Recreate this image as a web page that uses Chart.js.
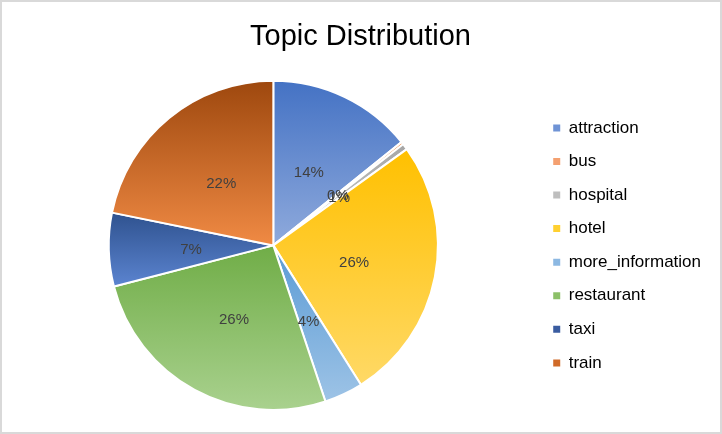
<!DOCTYPE html>
<html>
<head>
<meta charset="utf-8">
<script src="https://cdn.jsdelivr.net/npm/chart.js@4.4.1/dist/chart.umd.min.js"></script>
<style>
html,body{margin:0;padding:0;background:#fff;}
#wrap{position:relative;width:722px;height:434px;}
#frame{position:absolute;left:0;top:0;width:722px;height:434px;box-sizing:border-box;border:2px solid #d9d9d9;pointer-events:none;}
canvas{display:block;}
</style>
</head>
<body>
<div id="wrap"><canvas id="c" width="722" height="434"></canvas><div id="frame"></div></div>
<script>
const chartTitle = 'Topic Distribution';
const categories = ['attraction', 'bus', 'hospital', 'hotel', 'more_information', 'restaurant', 'taxi', 'train'];
const values = [14.2, 0.25, 0.6, 26.0, 3.8, 26.1, 7.2, 21.8];
const topColors = ['#4472C4', '#ED7D31', '#A5A5A5', '#FFC000', '#5B9BD5', '#70AD47', '#2F528F', '#9E480E'];
const bottomColors = ['#8FAADC', '#F4B183', '#D0D0D0', '#FFD966', '#9DC3E6', '#A9D18E', '#5B84D0', '#F08A44'];
const legendColors = ['#6F93D5', '#F4A070', '#BEBEBE', '#FFD030', '#8CB8E2', '#8CC068', '#3A5CA0', '#D06A28'];

const FONT = '"Liberation Sans", Arial, sans-serif';
const total = values.reduce((a, b) => a + b, 0);

function sliceGradient(c) {
  const chart = c.chart;
  const i = c.dataIndex;
  const area = chart.chartArea;
  const meta = chart.getDatasetMeta(0);
  const ctrl = meta && meta.controller;
  if (!area || !ctrl || !ctrl.outerRadius) return topColors[i];
  const cx = (area.left + area.right) / 2 + (ctrl.offsetX || 0);
  const cy = (area.top + area.bottom) / 2 + (ctrl.offsetY || 0);
  const r = ctrl.outerRadius;
  let cum = 0;
  for (let k = 0; k < i; k++) cum += values[k];
  const a0 = -Math.PI / 2 + cum / total * 2 * Math.PI;
  const a1 = a0 + values[i] / total * 2 * Math.PI;
  const ys = [cy, cy + r * Math.sin(a0), cy + r * Math.sin(a1)];
  for (const t of [-Math.PI / 2, Math.PI / 2, 3 * Math.PI / 2]) {
    if (t >= a0 && t <= a1) ys.push(cy + r * Math.sin(t));
  }
  const y0 = Math.min(...ys);
  let y1 = Math.max(...ys);
  if (y1 <= y0) y1 = y0 + 1;
  const g = chart.ctx.createLinearGradient(0, y0, 0, y1);
  g.addColorStop(0, topColors[i]);
  g.addColorStop(1, bottomColors[i]);
  return g;
}

const pctLabels = {
  id: 'pctLabels',
  afterDatasetsDraw(chart) {
    const meta = chart.getDatasetMeta(0);
    const ctx = chart.ctx;
    ctx.save();
    ctx.font = '15px ' + FONT;
    ctx.fillStyle = '#404040';
    ctx.textAlign = 'center';
    ctx.textBaseline = 'middle';
    meta.data.forEach((arc, i) => {
      const p = arc.getCenterPoint();
      ctx.fillText(Math.round(values[i] / total * 100) + '%', p.x, p.y + 2);
    });
    ctx.restore();
  }
};

new Chart(document.getElementById('c'), {
  type: 'pie',
  data: {
    labels: categories,
    datasets: [{
      data: values,
      backgroundColor: sliceGradient,
      borderColor: '#ffffff',
      borderWidth: 2
    }]
  },
  options: {
    responsive: false,
    animation: false,
    devicePixelRatio: 1,
    layout: { padding: { left: 10, right: 11, top: 0, bottom: 23 } },
    plugins: {
      title: {
        display: true,
        text: chartTitle,
        color: '#000000',
        font: { family: FONT, size: 29, weight: 'normal' },
        padding: { top: 20, bottom: 25 }
      },
      legend: {
        position: 'right',
        fullSize: false,
        labels: {
          color: '#000000',
          font: { family: FONT, size: 17 },
          boxWidth: 7,
          boxHeight: 7,
          padding: 16.57,
          generateLabels: () => categories.map((name, i) => ({
            text: name,
            fillStyle: legendColors[i],
            strokeStyle: legendColors[i],
            lineWidth: 0,
            hidden: false,
            index: i
          }))
        }
      },
      tooltip: { enabled: false }
    }
  },
  plugins: [pctLabels]
});
</script>
</body>
</html>
